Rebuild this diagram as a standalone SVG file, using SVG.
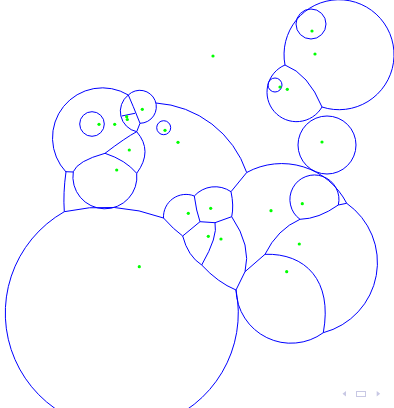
<svg xmlns="http://www.w3.org/2000/svg" width="394" height="408" viewBox="0 0 394 408">
<style>
.c{fill:none;stroke:#0000ff;stroke-width:1}
.d{fill:#00ff00}
.nav{fill:#c8c8e4}
</style>
<rect width="394" height="408" fill="#ffffff"/>
<g id="arcs" class="c">
<path d="M285,65 A55,55 0 1 1 322,107"/>
<path d="M285,65 A29.5,29.5 0 1 0 322,107"/>
<path d="M285,65 Q308.5,74 322,107"/>
<circle cx="275" cy="85" r="7"/>
<circle cx="311" cy="24" r="15"/>
<circle cx="327" cy="145" r="29"/>
<path d="M66,172 A50,50 0 0 1 128.3,95"/>
<circle cx="92" cy="124" r="12.3"/>
<path d="M128.3,95 A16.5,16.5 0 1 1 140,123.3"/>
<path d="M128.3,95 L133.3,106.7 L140,123.3 L136.7,131.7"/>
<path d="M128.3,95 A20.8,20.8 0 0 0 136.7,131.7"/>
<path d="M121.7,116 L135,113.3"/>
<circle cx="163.7" cy="127.7" r="7"/>
<path d="M156,103 A103,103 0 0 1 246.7,172.5"/>
<path d="M136.7,131.7 Q125.75,137.5 105,153.3 Q77.45,160.9 73.3,171.7"/>
<path d="M105,153.3 Q125.75,160.1 136.7,173.3"/>
<path d="M136.7,131.7 Q153.3,150.9 136.7,173.3"/>
<path d="M73.3,171.7 A32,32 0 1 0 136.7,173.3"/>
<path d="M73.3,172 L66,171.7 Q63,193 64.3,211.7"/>
<path d="M64.3,211.7 A116.5,116.5 0 1 0 236,290"/>
<path d="M64.3,211.7 A175,175 0 0 1 163.5,218"/>
<path d="M163.5,218 A22.5,22.5 0 0 1 194.3,196 A28,28 0 0 1 231,191.7 L246.7,172.5"/>
<path d="M194.3,196 Q196.25,211.15 200,221.7 L215,222.7 L231.7,216.7 Q234.05,205.8 231,191.7"/>
<path d="M200,221.7 L182.7,236"/>
<path d="M163.5,218 Q173.6,229.45 182.7,236 Q187.8,256.1 201.7,265 Q217.75,282.5 236,290"/>
<path d="M215,222.7 Q218.25,236.15 201.7,265"/>
<path d="M231.7,216.7 Q251.65,245.8 245,271.7 L236,290"/>
<path d="M245,271.7 L265,254.3"/>
<path d="M246.7,172.5 A73,73 0 0 1 346.7,203.3"/>
<path d="M346.7,203.3 A72.5,72.5 0 0 1 323.3,332.7"/>
<path d="M346.7,203.3 L338.3,205"/>
<path d="M300,219.3 A24.5,24.5 0 1 1 338.3,205"/>
<path d="M300,219.3 Q318.85,218.85 338.3,205"/>
<path d="M300,219.3 Q277.35,229.2 265,254.3"/>
<path d="M265,254.3 C305,253 333,280 323.3,332.7"/>
<path d="M323.3,332.7 A55,55 0 0 1 236,290"/>
</g>
<g id="sites" class="d">
<circle cx="312" cy="31" r="1.6"/>
<circle cx="315" cy="54" r="1.6"/>
<circle cx="213" cy="56" r="1.6"/>
<circle cx="280" cy="87" r="1.6"/>
<circle cx="287.3" cy="89.3" r="1.6"/>
<circle cx="322" cy="142" r="1.6"/>
<circle cx="99" cy="124.3" r="1.6"/>
<circle cx="114.7" cy="124.3" r="1.6"/>
<circle cx="126.7" cy="116.7" r="1.6"/>
<circle cx="127.3" cy="119.5" r="1.6"/>
<circle cx="142.3" cy="109.3" r="1.6"/>
<circle cx="165" cy="130.3" r="1.6"/>
<circle cx="178" cy="142.3" r="1.6"/>
<circle cx="129.3" cy="150" r="1.6"/>
<circle cx="116.7" cy="170" r="1.6"/>
<circle cx="188.3" cy="213.3" r="1.6"/>
<circle cx="210.7" cy="208.3" r="1.6"/>
<circle cx="208.3" cy="236.3" r="1.6"/>
<circle cx="221" cy="239" r="1.6"/>
<circle cx="271" cy="210.7" r="1.6"/>
<circle cx="302.3" cy="203.7" r="1.6"/>
<circle cx="299.3" cy="244" r="1.6"/>
<circle cx="286.7" cy="271.7" r="1.6"/>
<circle cx="139.3" cy="266.7" r="1.6"/>
</g>
<g id="nav" class="nav">
<polygon points="346,391 346,396.5 342.5,393.75"/>
<rect x="356.5" y="391.5" width="9" height="5" fill="none" stroke="#c8c8e4" stroke-width="1"/>
<polygon points="376.7,391 376.7,396.5 380.2,393.75"/>
</g>
</svg>
